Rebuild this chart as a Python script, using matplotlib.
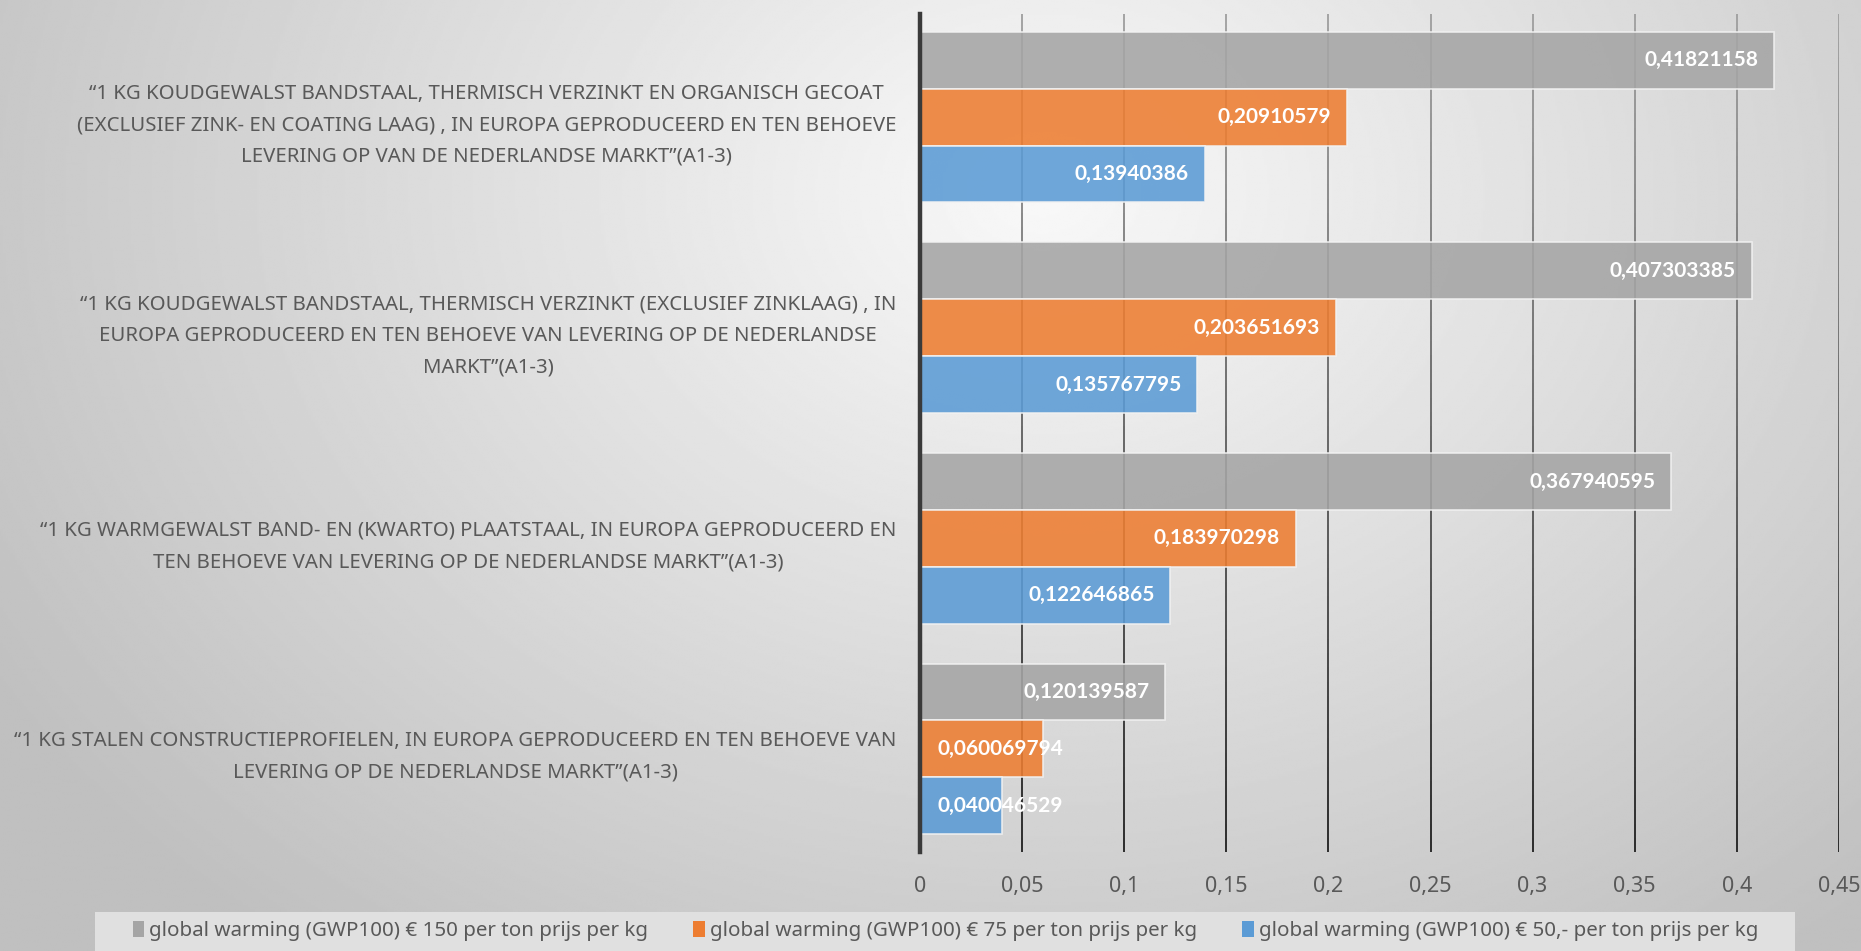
import numpy as np
import matplotlib
matplotlib.use("Agg")
import matplotlib.pyplot as plt
from matplotlib.patches import Patch, Rectangle
from matplotlib.collections import LineCollection

plt.rcParams['font.family'] = ['Noto Sans', 'DejaVu Sans']
plt.rcParams['font.stretch'] = 'condensed'

categories = [
    "\u201c1 KG KOUDGEWALST BANDSTAAL, THERMISCH VERZINKT EN ORGANISCH GECOAT\n"
    "(EXCLUSIEF ZINK- EN COATING LAAG) , IN EUROPA GEPRODUCEERD EN TEN BEHOEVE\n"
    "LEVERING OP VAN DE NEDERLANDSE MARKT\u201d(A1-3)",
    "\u201c1 KG KOUDGEWALST BANDSTAAL, THERMISCH VERZINKT (EXCLUSIEF ZINKLAAG) , IN\n"
    "EUROPA GEPRODUCEERD EN TEN BEHOEVE VAN LEVERING OP DE NEDERLANDSE\n"
    "MARKT\u201d(A1-3)",
    "\u201c1 KG WARMGEWALST BAND- EN (KWARTO) PLAATSTAAL, IN EUROPA GEPRODUCEERD EN\n"
    "TEN BEHOEVE VAN LEVERING OP DE NEDERLANDSE MARKT\u201d(A1-3)",
    "\u201c1 KG STALEN CONSTRUCTIEPROFIELEN, IN EUROPA GEPRODUCEERD EN TEN BEHOEVE VAN\n"
    "LEVERING OP DE NEDERLANDSE MARKT\u201d(A1-3)",
]
series_names = [
    "global warming (GWP100) \u20ac 150 per ton prijs per kg",
    "global warming (GWP100) \u20ac 75 per ton prijs per kg",
    "global warming (GWP100) \u20ac 50,- per ton prijs per kg",
]
gwp_150 = [0.41821158, 0.407303385, 0.367940595, 0.120139587]
gwp_75 = [0.20910579, 0.203651693, 0.183970298, 0.060069794]
gwp_50 = [0.13940386, 0.135767795, 0.122646865, 0.040046529]
xticks = [0, 0.05, 0.1, 0.15, 0.2, 0.25, 0.3, 0.35, 0.4, 0.45]

colors = ['#a5a5a5', '#ed7d31', '#5b9bd5']
text_gray = '#595959'

fig = plt.figure(figsize=(18.61, 9.51), dpi=100)

# radial grey background
bg = fig.add_axes([0, 0, 1, 1], zorder=-10)
yy, xx = np.mgrid[0:1:400j, 0:1:800j]
d = np.sqrt(((xx - 0.56) / 0.62) ** 2 + ((yy - 0.2) / 0.95) ** 2)
shade = np.clip(0.975 - 0.21 * d, 0.75, 1)
bg.imshow(shade, cmap='gray', vmin=0, vmax=1, aspect='auto',
          extent=[0, 1, 1, 0], interpolation='bilinear')
bg.set_xlim(0, 1)
bg.set_ylim(1, 0)
bg.axis('off')

ax = fig.add_axes([0.4944, 0.104, 0.4937, 0.8813])
ax.set_facecolor('none')
ax.set_ylim(3.49, -0.49)
ax.set_xlim(0, 0.45)

# vertical gridlines, fading from light at the top to dark at the bottom
ys = np.linspace(-0.49, 3.49, 60)
segs, seg_cols = [], []
for t in xticks[1:]:
    for k in range(len(ys) - 1):
        segs.append([(t, ys[k]), (t, ys[k + 1])])
        g = 0.62 - 0.5 * (k / (len(ys) - 2))
        seg_cols.append((g, g, g, 1))
ax.add_collection(LineCollection(segs, colors=seg_cols, linewidths=1.3,
                                 zorder=1))

y = np.arange(len(categories))
h = 0.27
series = [gwp_150, gwp_75, gwp_50]
for i, (vals, c) in enumerate(zip(series, colors)):
    pos = y + (i - 1) * h
    ax.barh(pos, vals, height=h, color=c, alpha=0.88, edgecolor='#f2f2f2',
            linewidth=1.2, zorder=3, label=series_names[i])
    for p, v in zip(pos, vals):
        lbl = str(v).replace('.', ',')
        kw = dict(va='center', color='white', fontsize=15, fontweight='bold',
                  family=['Lato', 'DejaVu Sans'], fontstretch='normal',
                  zorder=5)
        if v > 0.1:
            ax.text(v - 0.0078, p, lbl, ha='right', **kw)
        else:
            ax.text(0.0085, p, lbl, ha='left', **kw)

ax.set_xticks(xticks)
ax.set_xticklabels([('%g' % t).replace('.', ',') for t in xticks],
                   fontsize=15.5, color=text_gray)
ax.set_yticks(y)
ax.set_yticklabels(categories, fontsize=14.7, color=text_gray,
                   multialignment='center', linespacing=1.75)
ax.tick_params(axis='both', length=0)
ax.tick_params(axis='x', pad=17)
ax.tick_params(axis='y', pad=17)
for s in ['top', 'right', 'bottom']:
    ax.spines[s].set_visible(False)
ax.spines['left'].set_color('#3a3a3a')
ax.spines['left'].set_linewidth(3.2)
ax.spines['left'].set_zorder(6)

# legend strip along the bottom
fig.patches.append(Rectangle((0.051, 0.0), 0.9135, 0.041,
                             transform=fig.transFigure, facecolor='#e0e0e0',
                             edgecolor='none', zorder=-5))
handles = [Patch(facecolor=c, edgecolor='none') for c in colors]
leg = fig.legend(handles, series_names, loc='center', ncol=3,
                 bbox_to_anchor=(0.508, 0.021), fontsize=14.8,
                 frameon=False, handlelength=0.55,
                 handleheight=0.8, handletextpad=0.25, columnspacing=2.2,
                 borderpad=0.2, labelcolor=text_gray)

fig.savefig('out.png', dpi=100)
